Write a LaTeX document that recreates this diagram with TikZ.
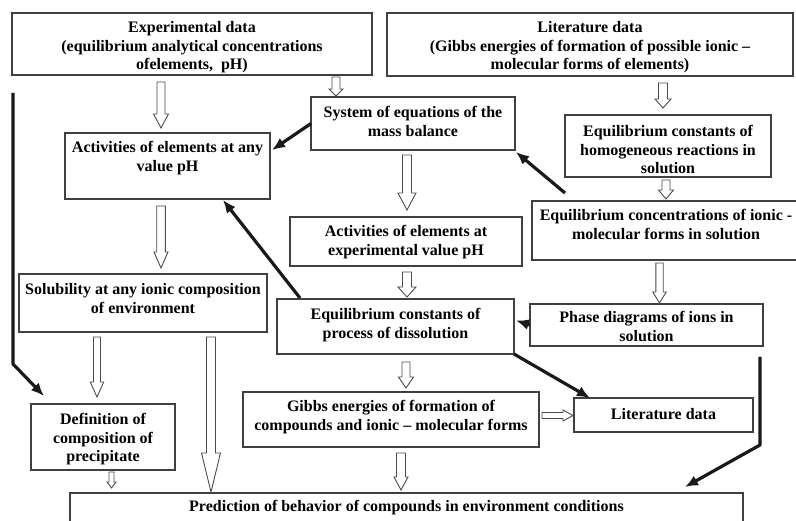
\documentclass[tikz,border=0pt]{standalone}
\usepackage{fontspec}
\setmainfont{Liberation Serif}
\usetikzlibrary{calc,arrows.meta}

% hollow block arrow: {from}{to}{head length}{shaft half-width}{head half-width}
\newcommand\blockarrow[5]{%
  \coordinate (ba-s) at #1;
  \coordinate (ba-e) at #2;
  \coordinate (ba-h) at ($(ba-e)!#3!(ba-s)$);
  \draw[hollow] ($(ba-s)!#4!90:(ba-e)$) -- ($(ba-h)!#4!90:(ba-e)$)
    -- ($(ba-h)!#5!90:(ba-e)$) -- (ba-e) -- ($(ba-h)!#5!-90:(ba-e)$)
    -- ($(ba-h)!#4!-90:(ba-e)$) -- ($(ba-s)!#4!-90:(ba-e)$) -- cycle;}

\begin{document}
\begin{tikzpicture}[x=1pt,y=-1pt,
  box/.style={draw=black!75, line width=1.1pt, rectangle, inner sep=0pt, outer sep=0pt, anchor=north west},
  label/.style={anchor=north, inner sep=0pt, align=center,
    font=\fontsize{16}{18.3}\selectfont\bfseries},
  hollow/.style={draw=black!70, line width=0.9pt, fill=white, line join=miter},
  heavy/.style={draw=black!90, line width=3.2pt, -{Latex[length=13pt,width=11pt]}, line join=round}]
\useasboundingbox (0,0) rectangle (796,521);
\clip (0,0) rectangle (796,521);

% boxes
\node[box, minimum width=360pt, minimum height=62pt] (exp) at (12,13) {};
\node[box, minimum width=406pt, minimum height=63pt] (lit) at (387,13) {};
\node[box, minimum width=204pt, minimum height=53pt] (sys) at (311,97) {};
\node[box, minimum width=205pt, minimum height=66pt] (act) at (65,133) {};
\node[box, minimum width=206pt, minimum height=62pt] (hom) at (565,115) {};
\node[box, minimum width=268pt, minimum height=59pt] (eqc) at (532,201) {};
\node[box, minimum width=232pt, minimum height=49pt] (actexp) at (290,217) {};
\node[box, minimum width=248pt, minimum height=58pt] (sol) at (19,274) {};
\node[box, minimum width=237pt, minimum height=55pt] (diss) at (277,299) {};
\node[box, minimum width=233pt, minimum height=42pt] (phase) at (530,304) {};
\node[box, minimum width=144pt, minimum height=66pt] (def) at (31,404) {};
\node[box, minimum width=296pt, minimum height=55pt] (gibbs) at (243,392) {};
\node[box, minimum width=179pt, minimum height=34pt] (lits) at (574,398) {};
\node[box, minimum width=673pt, minimum height=50pt] (pred) at (70,493) {};

% texts
\node[label] (expT) at ($(exp.north)+(0,8.5)$) {Experimental data\\(equilibrium analytical concentrations\\ofelements,\ \ pH)};
\node[label] (litT) at ($(lit.north)+(0,8.5)$) {Literature data\\(Gibbs energies of formation of possible ionic --\\molecular forms of elements)};
\node[label] (sysT) at ($(sys.north)+(0,9.5)$) {System of equations of the\\mass balance};
\node[label] (actT) at ($(act.north)+(0,8.5)$) {Activities of elements at any\\value pH};
\node[label] (homT) at ($(hom.north)+(0,10.5)$) {Equilibrium constants of\\homogeneous reactions in\\solution};
\node[label] (eqcT) at ($(eqc.north)+(0,8.5)$) {Equilibrium concentrations of ionic -\\molecular forms in solution};
\node[label] (actexpT) at ($(actexp.north)+(0,8.5)$) {Activities of elements at\\experimental value pH};
\node[label] (solT) at ($(sol.north)+(0,9.5)$) {Solubility at any ionic composition\\of environment};
\node[label] (dissT) at ($(diss.north)+(0,9.5)$) {Equilibrium constants of\\process of dissolution};
\node[label] (phaseT) at ($(phase.north)+(0,7.5)$) {Phase diagrams of ions in\\solution};
\node[label] (defT) at ($(def.north)+(0,9.5)$) {Definition of\\composition of\\precipitate};
\node[label] (gibbsT) at ($(gibbs.north)+(0,8.5)$) {Gibbs energies of formation of\\compounds and ionic -- molecular forms};
\node[label] (litsT) at ($(lits.north)+(0,10.5)$) {Literature data};
\node[label] (predT) at ($(pred.north)+(0,7.5)$) {Prediction of behavior of compounds in environment conditions};

% hollow flow arrows
\blockarrow{($(161,0 |- exp.south)+(0,7)$)}{($(161,0 |- act.north)+(0,-5)$)}{14pt}{4pt}{7.5pt}
\blockarrow{($(336,0 |- exp.south)+(0,2)$)}{($(336,0 |- sys.north)+(0,-1)$)}{7pt}{4pt}{7pt}
\blockarrow{($(663,0 |- lit.south)+(0,7)$)}{($(663,0 |- hom.north)+(0,-7)$)}{9pt}{4.5pt}{8pt}
\blockarrow{($(407,0 |- sys.south)+(0,5)$)}{($(407,0 |- actexp.north)+(0,-7)$)}{17pt}{4.5pt}{9pt}
\blockarrow{($(161,0 |- act.south)+(0,7)$)}{($(161,0 |- sol.north)+(0,-6)$)}{16pt}{4.3pt}{7pt}
\blockarrow{($(666,0 |- hom.south)+(0,3)$)}{($(666,0 |- eqc.north)+(0,-2)$)}{9pt}{4pt}{7.5pt}
\blockarrow{($(659.5,0 |- eqc.south)+(0,3)$)}{($(659.5,0 |- phase.north)+(0,-1)$)}{11pt}{3.7pt}{6.7pt}
\blockarrow{($(407,0 |- actexp.south)+(0,6)$)}{($(407,0 |- diss.north)+(0,-2)$)}{10pt}{4.5pt}{9pt}
\blockarrow{($(97,0 |- sol.south)+(0,5)$)}{($(97,0 |- def.north)+(0,-7)$)}{15pt}{3.5pt}{6.7pt}
\blockarrow{($(211,0 |- sol.south)+(0,5)$)}{($(211,0 |- pred.north)+(0,-1)$)}{39pt}{4.5pt}{9.5pt}
\blockarrow{($(111.5,0 |- def.south)+(0,2)$)}{($(111.5,0 |- pred.north)+(0,-5)$)}{6pt}{2.5pt}{4.5pt}
\blockarrow{($(406,0 |- diss.south)+(0,8)$)}{($(406,0 |- gibbs.north)+(0,-4)$)}{11pt}{4pt}{7.5pt}
\blockarrow{($(401,0 |- gibbs.south)+(0,6)$)}{($(401,0 |- pred.north)+(0,-3)$)}{13pt}{4.5pt}{7pt}
\blockarrow{($(gibbs.east |- 0,415.5)+(3,0)$)}{($(lits.west |- 0,415.5)+(-1,0)$)}{10pt}{3pt}{5.5pt}

% heavy feedback arrows
\draw[heavy] (sys.west) -- ($(act.north east)+(2,17)$);
\draw[heavy] ($(eqc.north west)+(33,-8)$) -- ($(sys.south east)+(1,2)$);
\draw[heavy] ($(diss.north west)+(23,-1)$) -- ($(act.south east)+(-47,1)$);
\draw[heavy] (phase.west) -- ($(diss.east)+(2,-6)$);
\draw[heavy] (diss.south east) -- ($(lits.north west)+(16,0)$);
\coordinate (lstart) at (13,93);
\draw[heavy] (lstart) -- (13,364) -- ($(def.north west)+(13,-8)$);
\coordinate (rstart) at (760,357);
\draw[heavy] (rstart) -- (760,445) -- ($(pred.north east)+(-58,-6)$);
\end{tikzpicture}
\end{document}
